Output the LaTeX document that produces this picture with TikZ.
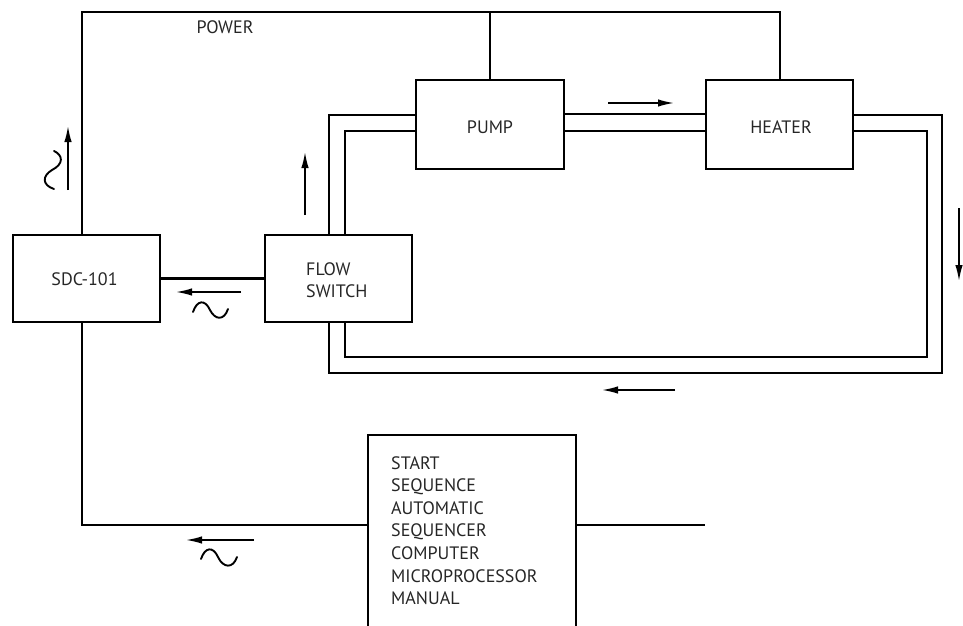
\documentclass[tikz,border=0pt]{standalone}
\usepackage{fontspec}
\setmainfont{PT Sans}
\usetikzlibrary{arrows.meta}
\tikzset{
  box/.style={draw, line width=2.3pt, inner sep=0pt},
  lbl/.style={font=\fontsize{18}{22.6}\selectfont, inner sep=0pt, text=black!85},
  wire/.style={line width=2.1pt},
  pipe/.style={line width=2.1pt, line join=miter},
  flow/.style={line width=1.7pt, -{Latex[length=16pt,width=7.5pt]}},
  wave/.style={line width=1.9pt, line cap=round},
}
\begin{document}
\begin{tikzpicture}[x=1pt,y=-1pt]
\useasboundingbox (0,0) rectangle (963,625);
\clip (0,0) rectangle (963,625);
% boxes
\node[box, minimum width=147pt, minimum height=87pt] (sdc) at (86.5,278.5) {};
\node[lbl] (sdct) at (84.5,279) {SDC-101};
\node[box, minimum width=147pt, minimum height=87pt] (fs) at (338.5,278.5) {};
\node[lbl, anchor=west, align=left] (fst) at (306,280) {FLOW\\SWITCH};
\node[box, minimum width=148pt, minimum height=89pt] (pump) at (490,124.5) {};
\node[lbl] (pumpt) at (490,127) {PUMP};
\node[box, minimum width=147pt, minimum height=89pt] (heat) at (779.5,124.5) {};
\node[lbl] (heatt) at (781,127) {HEATER};
\node[box, minimum width=208pt, minimum height=240pt, anchor=north west] (seq) at (367,434) {};
\node[lbl, anchor=north west, align=left] (seqt) at (391,456) {START\\SEQUENCE\\AUTOMATIC\\SEQUENCER\\COMPUTER\\MICROPROCESSOR\\MANUAL};
\node[lbl] (pw) at (225,27) {POWER};
% power wiring
\coordinate (tl) at (82,12);
\coordinate (tr) at (780,12);
\draw[wire] (sdc.north -| tl) -- (tl) -- (tr) -- (heat.north -| tr);
\draw[wire] (pump.north |- tl) -- (pump.north);
\draw[wire] (sdc.east) -- (fs.west);
\coordinate (bl) at (82,525);
\coordinate (br) at (705,525);
\draw[wire] (sdc.south -| bl) -- (bl) -- (seq.west |- bl);
\draw[wire] (seq.east |- br) -- (br);
% pipes
\draw[pipe] (fs.north -| 329,0) -- (329,115) -- (pump.west |- 0,115);
\draw[pipe] (fs.north -| 345,0) -- (345,131) -- (pump.west |- 0,131);
\draw[pipe] (pump.east |- 0,114) -- (heat.west |- 0,114);
\draw[pipe] (pump.east |- 0,131) -- (heat.west |- 0,131);
\draw[pipe] (heat.east |- 0,115) -- (942,115) -- (942,373) -- (329,373) -- (fs.south -| 329,0);
\draw[pipe] (heat.east |- 0,131) -- (927,131) -- (927,357) -- (345,357) -- (fs.south -| 345,0);
% flow arrows
\coordinate (a1s) at (305,215); \coordinate (a1e) at (305,152);
\draw[flow] (a1s) -- (a1e);
\coordinate (a2s) at (608,103); \coordinate (a2e) at (674,103);
\draw[flow] (a2s) -- (a2e);
\coordinate (a3s) at (959,208); \coordinate (a3e) at (959,281);
\draw[flow] (a3s) -- (a3e);
\coordinate (a4s) at (675,390); \coordinate (a4e) at (602,390);
\draw[flow] (a4s) -- (a4e);
\coordinate (a5s) at (68,190); \coordinate (a5e) at (68,126);
\draw[flow] (a5s) -- (a5e);
\coordinate (a6s) at (241,292); \coordinate (a6e) at (176,292);
\draw[flow] (a6s) -- (a6e);
\coordinate (a7s) at (254,540); \coordinate (a7e) at (186,540);
\draw[flow] (a7s) -- (a7e);
% AC symbols
\draw[wave] (193,312) .. controls (197,300) and (205,299) .. (210,310) .. controls (215,320) and (224,321) .. (228,309);
\draw[wave] (201,559) .. controls (205,547) and (213,546) .. (218,557) .. controls (223,568) and (233,569) .. (237,557);
\draw[wave] (54,151) .. controls (63,155) and (64,164) .. (52,170) .. controls (42,176) and (42,185) .. (54,189);
\end{tikzpicture}
\end{document}
